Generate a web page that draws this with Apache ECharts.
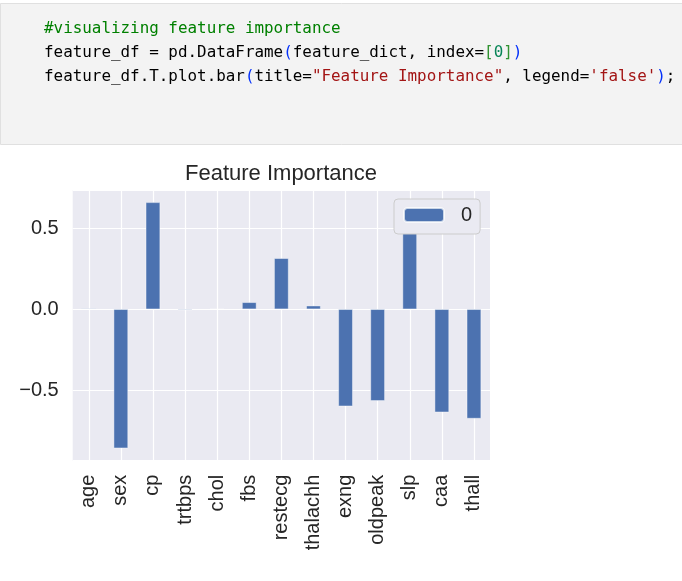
<!DOCTYPE html>
<html>
<head>
<meta charset="utf-8">
<script src="https://cdn.jsdelivr.net/npm/echarts@6/dist/echarts.min.js"></script>
<style>
html,body{margin:0;padding:0;background:#fff;}
#chart{width:682px;height:581px;}
</style>
</head>
<body>
<div id="chart"></div>
<script>
// ---- data ----
const categories = ['age','sex','cp','trtbps','chol','fbs','restecg','thalachh','exng','oldpeak','slp','caa','thall'];
const importance = [0.005,-0.858,0.660,-0.006,0.001,0.043,0.315,0.022,-0.599,-0.566,0.55,-0.636,-0.675];
const seriesName = '0';
const chartTitle = 'Feature Importance';
const yMin = -0.935;
const yMax = 0.736;

const chart = echarts.init(document.getElementById('chart'));
const txt = '#262626';
const sans = '"Liberation Sans", Arial, sans-serif';
const mono = '"DejaVu Sans Mono", "Liberation Mono", monospace';
const codeFont = '15.9px ' + mono;

const codeRich = {
  k: {fill:'#000000', font:codeFont},
  c: {fill:'#008000', font:codeFont},
  p: {fill:'#0431FA', font:codeFont},
  b: {fill:'#319331', font:codeFont},
  n: {fill:'#098658', font:codeFont},
  s: {fill:'#A31515', font:codeFont}
};
function codeLine(y, text){
  return {type:'text', x:44, y:y, style:{text:text, rich:codeRich, font:codeFont, verticalAlign:'middle', fill:'#000'}, z:10};
}

chart.setOption({
  animation:false,
  backgroundColor:'#ffffff',
  grid:{left:72.7, right:192, top:190, bottom:120.3, show:true, backgroundColor:'#EAEAF2', borderWidth:0},
  legend:{
    data:[seriesName], left:394, top:199,
    padding:[6,8,9,9],
    itemWidth:40, itemHeight:14,
    backgroundColor:'#EAEAF2', borderColor:'#CCCCCC', borderWidth:1, borderRadius:4,
    textStyle:{fontFamily:sans, fontSize:20, color:txt, padding:[0,0,0,12]},
    z:20
  },
  xAxis:{
    type:'category', data:categories,
    axisLine:{show:false}, axisTick:{show:false},
    axisLabel:{rotate:90, fontFamily:sans, fontSize:20, color:txt, margin:14, interval:0},
    splitLine:{show:true, alignWithLabel:true, interval:0, lineStyle:{color:'#ffffff', width:1.2}}
  },
  yAxis:{
    type:'value', min:yMin, max:yMax, splitNumber:3,
    axisLine:{show:false}, axisTick:{show:false},
    axisLabel:{fontFamily:sans, fontSize:20, color:txt, margin:14, showMinLabel:false, showMaxLabel:false,
      formatter:function(v){return v.toFixed(1).replace('-', '\u2212');}},
    splitLine:{show:true, lineStyle:{color:'#ffffff', width:1.2}}
  },
  series:[{
    name:seriesName, type:'bar', data:importance, barWidth:'45%',
    itemStyle:{color:'#4C72B0', borderColor:'rgba(255,255,255,0.7)', borderWidth:0.6}
  }],
  graphic:[
    {type:'rect', shape:{x:0.5, y:3.5, width:700, height:141}, style:{fill:'#F3F3F3', stroke:'#E0E0E0', lineWidth:1}, z:5},
    codeLine(29, '{c|#visualizing feature importance}'),
    codeLine(53, '{k|feature_df = pd.DataFrame}{p|(}{k|feature_dict, index=}{b|[}{n|0}{b|]}{p|)}'),
    codeLine(77, '{k|feature_df.T.plot.bar}{p|(}{k|title=}{s|"Feature Importance"}{k|, legend=}{s|\'false\'}{p|)}{k|;}'),
    {type:'text', x:281, y:174, style:{text:chartTitle, font:'22px ' + sans, fill:txt, align:'center', verticalAlign:'middle'}, z:10}
  ]
});
</script>
</body>
</html>
